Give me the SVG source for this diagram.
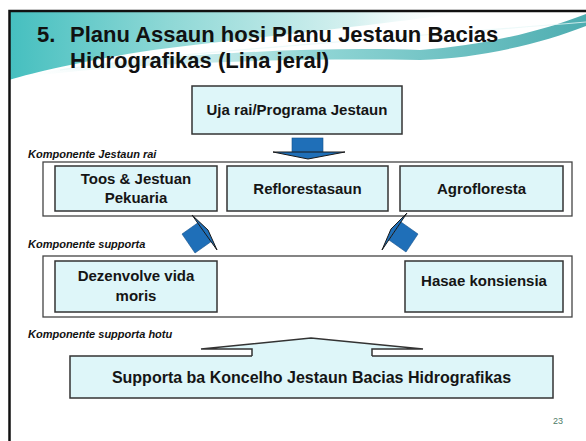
<svg xmlns="http://www.w3.org/2000/svg" width="586" height="441" viewBox="0 0 586 441">
<defs>
<linearGradient id="hdr" x1="0" y1="0" x2="1" y2="0">
<stop offset="0" stop-color="#45bfbf"/>
<stop offset="0.35" stop-color="#8fd8d6"/>
<stop offset="0.75" stop-color="#d6f1f0"/>
<stop offset="1" stop-color="#ffffff" stop-opacity="0"/>
</linearGradient>
<linearGradient id="sw" x1="0" y1="0" x2="1" y2="0">
<stop offset="0" stop-color="#bfe9e8" stop-opacity="0"/>
<stop offset="0.5" stop-color="#7fd0cf"/>
<stop offset="1" stop-color="#2f9fa3"/>
</linearGradient>
<style>
.title{font-family:"Liberation Sans",Arial,sans-serif;font-weight:bold;font-size:22px;fill:#111}
.lbl{font-family:"Liberation Sans",Arial,sans-serif;font-weight:bold;font-style:italic;font-size:11px;fill:#111}
.t{font-family:"Liberation Sans",Arial,sans-serif;font-weight:bold;font-size:15px;fill:#151515;text-anchor:middle}
.outer{fill:#fff;stroke:#444;stroke-width:1.3}
.inner{fill:#def6f9;stroke:#333;stroke-width:1.5}
.blue{fill:#1f6fb8;stroke:#15508a;stroke-width:0.6}
.wedge{fill:#1f6fb8;stroke:#1a1a1a;stroke-width:1;stroke-linejoin:round}
.pg{font-family:"Liberation Sans",Arial,sans-serif;font-size:9px;fill:#4e7a66}
</style>
</defs>
<rect width="586" height="441" fill="#fff"/>
<!-- header decoration -->
<path d="M9,11 H470 C380,26 240,38 140,52 C80,62 35,72 9,80 Z" fill="url(#hdr)"/>
<path d="M30,74 C140,56 300,46 420,50 C480,46 540,32 586,14 L586,26 C540,44 480,58 420,60 C300,58 150,62 30,76 Z" fill="url(#sw)" opacity="0.85"/>
<path d="M60,70 C180,52 320,44 586,22" fill="none" stroke="#e9f8f8" stroke-width="1.2" opacity="0.8"/>
<!-- slide border -->
<path d="M9.5,441 V11 H586" fill="none" stroke="#111" stroke-width="2.5"/>
<!-- title -->
<g id="title">
<text class="title" x="37" y="42">5.</text>
<text class="title" x="70" y="42">Planu Assaun hosi Planu Jestaun Bacias</text>
<text class="title" x="70" y="68">Hidrografikas (Lina jeral)</text>
</g>
<g id="uja">
<rect class="inner" x="192" y="86" width="210" height="48"/>
<text class="t" x="297" y="115">Uja rai/Programa Jestaun</text>
</g>
<text class="lbl" x="28" y="158">Komponente Jestaun rai</text>
<g id="group-jestaun">
<rect class="outer" x="43" y="162" width="529" height="54"/>
</g>
<g id="toos">
<rect class="inner" x="55" y="166" width="162" height="45"/>
<text class="t" x="136" y="184">Toos &amp; Jestuan</text>
<text class="t" x="136" y="203">Pekuaria</text>
</g>
<g id="reflorestasaun">
<rect class="inner" x="227" y="166" width="161" height="45"/>
<text class="t" x="307.5" y="194">Reflorestasaun</text>
</g>
<g id="agrofloresta">
<rect class="inner" x="400" y="166" width="163" height="45"/>
<text class="t" x="481.5" y="194">Agrofloresta</text>
</g>
<text class="lbl" x="28" y="248">Komponente supporta</text>
<g id="group-supporta">
<rect class="outer" x="43" y="256" width="529" height="61"/>
</g>
<g id="dezenvolve">
<rect class="inner" x="55" y="261" width="162" height="51"/>
<text class="t" x="136" y="281">Dezenvolve vida</text>
<text class="t" x="136" y="301">moris</text>
</g>
<g id="hasae">
<rect class="inner" x="405" y="261" width="158" height="51"/>
<text class="t" x="484" y="286">Hasae konsiensia</text>
</g>
<text class="lbl" x="28" y="338">Komponente supporta hotu</text>
<g id="supporta-koncelho">
<rect class="inner" x="70" y="356" width="483" height="42"/>
<text class="t" x="311.5" y="383" style="font-size:16px">Supporta ba Koncelho Jestaun Bacias Hidrografikas</text>
</g>
<g id="connectors">
<!-- down arrow -->
<rect class="blue" x="292" y="138" width="31" height="15"/>
<polygon class="wedge" points="273,152 345,152 308,159"/>
<!-- left up arrow -->
<polygon class="blue" points="199,222 212,241 195,253 182,234"/>
<polygon class="wedge" points="192,215 208,230 217,250"/>
<!-- right up arrow -->
<polygon class="blue" points="401,222 418,234 406,252 389,240"/>
<polygon class="wedge" points="407,213 391,229 382,250"/>
<!-- bottom up arrow -->
<path d="M252,358 V349 H201 L311,338 L423,349 H372 V358 Z" fill="#def6f9"/>
<path d="M252,356 V349 H201 L311,338 L423,349 H372 V356" fill="none" stroke="#333" stroke-width="1.5" stroke-linejoin="miter"/>
</g>
<text class="pg" x="553" y="424">23</text>
</svg>
